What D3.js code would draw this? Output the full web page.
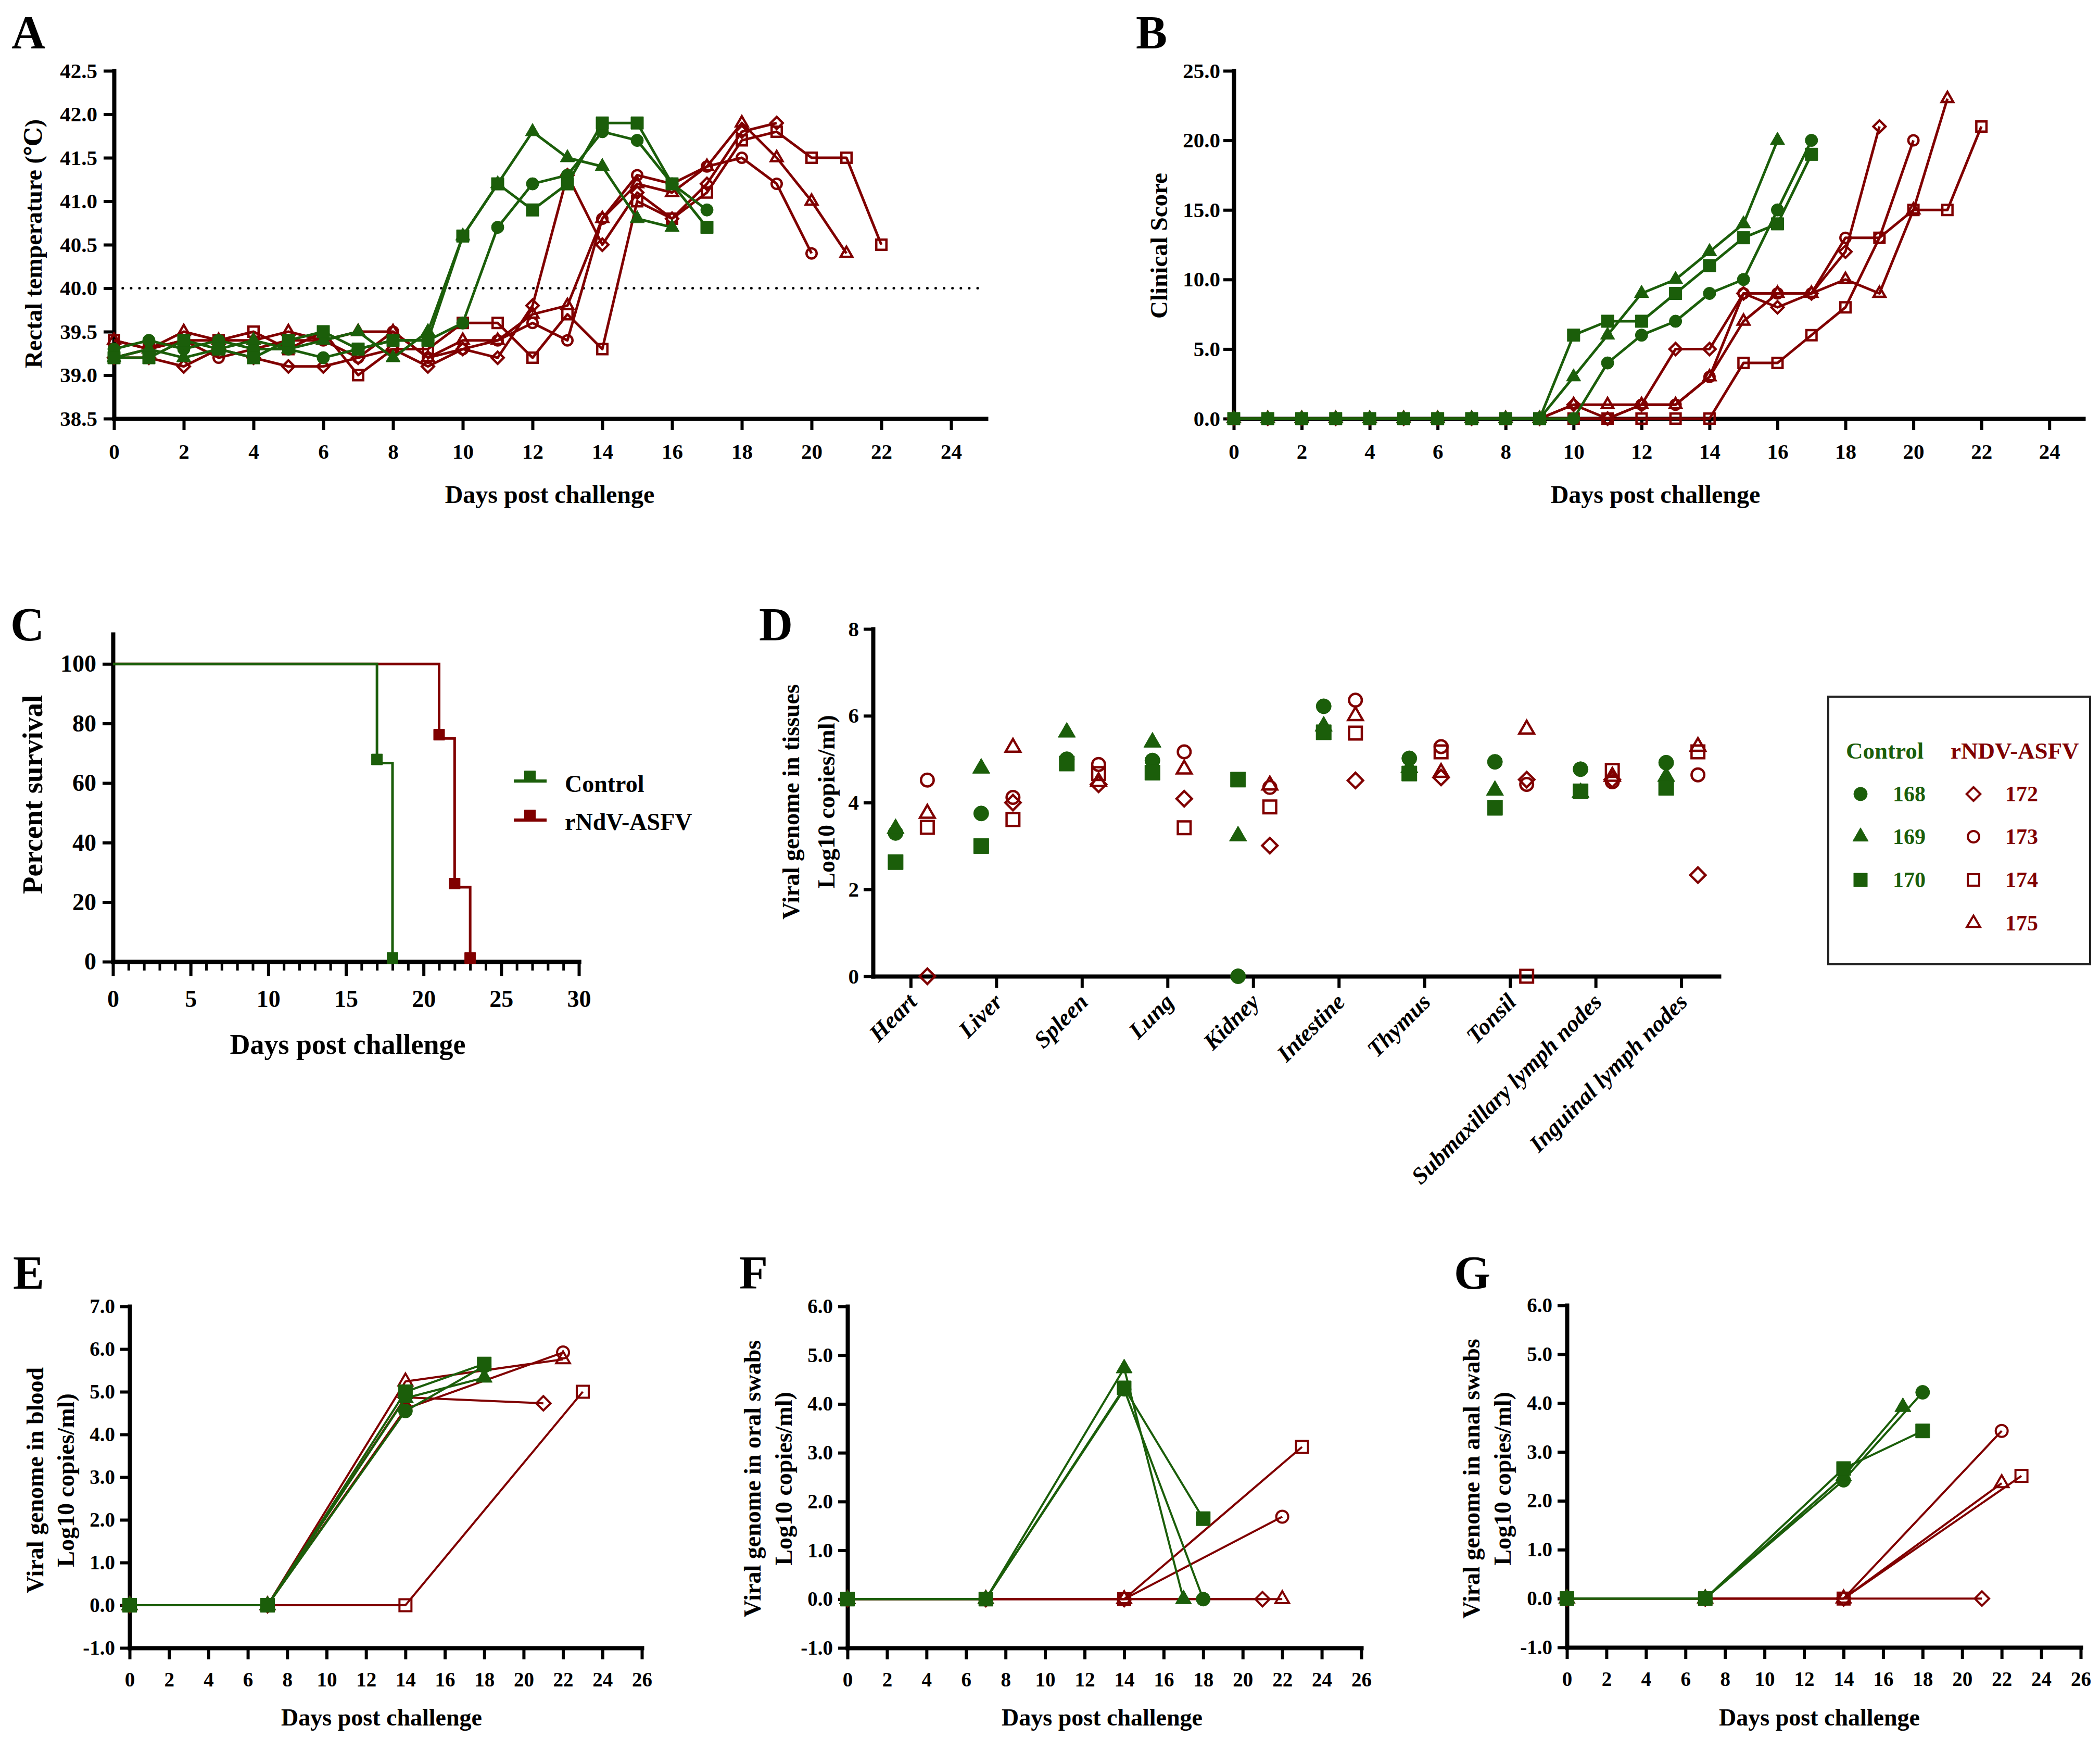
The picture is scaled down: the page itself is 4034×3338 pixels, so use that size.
<!DOCTYPE html>
<html><head><meta charset="utf-8">
<script src="https://cdn.jsdelivr.net/npm/d3@7/dist/d3.min.js"></script>
<style>
html,body{margin:0;padding:0;background:#fff;}
svg{display:block;}
</style></head>
<body>
<svg id="fig" width="4034" height="3338" xmlns="http://www.w3.org/2000/svg"></svg>
<script>
// ================= DATA =================
const animalIds   = ["168","169","170","172","173","174","175"];
const animalGroup = ["Control","Control","Control","rNDV-ASFV","rNDV-ASFV","rNDV-ASFV","rNDV-ASFV"];

// A: rectal temperature (index = day post challenge)
const temp168 = [39.3,39.4,39.3,39.4,39.3,39.3,39.2,39.3,39.4,39.4,39.6,40.7,41.2,41.3,41.8,41.7,41.2,40.9];
const temp169 = [39.2,39.3,39.2,39.3,39.4,39.3,39.4,39.5,39.2,39.5,40.6,41.2,41.8,41.5,41.4,40.8,40.7];
const temp170 = [39.2,39.2,39.4,39.3,39.2,39.4,39.5,39.3,39.4,39.4,40.6,41.2,40.9,41.2,41.9,41.9,41.2,40.7];
const temp172 = [39.2,39.2,39.1,39.3,39.2,39.1,39.1,39.2,39.3,39.1,39.3,39.2,39.8,41.3,40.5,41.1,40.8,41.2,41.8,41.9];
const temp173 = [39.2,39.3,39.4,39.2,39.3,39.4,39.4,39.2,39.5,39.2,39.3,39.4,39.6,39.4,40.8,41.3,41.2,41.4,41.5,41.2,40.4];
const temp174 = [39.4,39.3,39.4,39.4,39.5,39.3,39.5,39.0,39.3,39.3,39.6,39.6,39.2,39.7,39.3,41.0,40.8,41.1,41.7,41.8,41.5,41.5,40.5];
const temp175 = [39.4,39.3,39.5,39.4,39.4,39.5,39.4,39.5,39.5,39.2,39.4,39.4,39.7,39.8,40.8,41.2,41.1,41.4,41.9,41.5,41.0,40.4];
const feverThreshold = 40.0;

// B: clinical score (index = day post challenge)
const score168 = [0,0,0,0,0,0,0,0,0,0,0,4,6,7,9,10,15,20];
const score169 = [0,0,0,0,0,0,0,0,0,0,3,6,9,10,12,14,20];
const score170 = [0,0,0,0,0,0,0,0,0,0,6,7,7,9,11,13,14,19];
const score172 = [0,0,0,0,0,0,0,0,0,0,1,0,1,5,5,9,8,9,12,21];
const score173 = [0,0,0,0,0,0,0,0,0,0,0,0,1,1,3,9,9,9,13,13,20];
const score174 = [0,0,0,0,0,0,0,0,0,0,0,0,0,0,0,4,4,6,8,13,15,15,21];
const score175 = [0,0,0,0,0,0,0,0,0,0,1,1,1,1,3,7,9,9,10,9,15,23];

// C: survival
const survDaysControl = [0,17,18];
const survControl     = [100,66.7,0];
const survDaysVacc    = [0,21,22,23];
const survVacc        = [100,75,25,0];

// D: viral genome in tissues (Log10 copies/ml)
const tissues = ["Heart","Liver","Spleen","Lung","Kidney","Intestine","Thymus","Tonsil","Submaxillary lymph nodes","Inguinal lymph nodes"];
const tissue168 = [3.30,3.75,5.00,4.97,0.00,6.22,5.02,4.94,4.77,4.92];
const tissue169 = [3.40,4.79,5.62,5.39,3.23,5.76,4.80,4.28,4.23,4.60];
const tissue170 = [2.63,3.00,4.90,4.69,4.53,5.62,4.67,3.88,4.26,4.34];
const tissue172 = [0.00,4.00,4.42,4.09,3.01,4.51,4.58,4.53,4.53,2.33];
const tissue173 = [4.52,4.12,4.88,5.17,4.35,6.36,5.29,4.42,4.48,4.64];
const tissue174 = [3.43,3.61,4.67,3.42,3.90,5.60,5.17,0.00,4.74,5.17];
const tissue175 = [3.75,5.27,4.48,4.77,4.40,6.00,4.69,5.69,4.60,5.29];

// E: blood
const bloodDays = [[0,7,14,18],[0,7,14,18],[0,7,14,18],[0,7,14,21],[0,7,14,22],[0,7,14,23],[0,7,14,22]];
const bloodVals = [[0,0,4.55,5.60],[0,0,4.85,5.33],[0,0,5.00,5.65],[0,0,4.87,4.73],[0,0,4.60,5.92],[0,0,0,5.00],[0,0,5.24,5.76]];
// F: oral swabs
const oralDays = [[0,7,14,18],[0,7,14,17],[0,7,14,18],[0,7,14,21],[0,7,14,22],[0,7,14,23],[0,7,14,22]];
const oralVals = [[0,0,4.30,0],[0,0,4.73,0],[0,0,4.33,1.65],[0,0,0,0],[0,0,0,1.69],[0,0,0,3.12],[0,0,0,0]];
// G: anal swabs
const analDays = [[0,7,14,18],[0,7,14,17],[0,7,14,18],[0,7,14,21],[0,7,14,22],[0,7,14,23],[0,7,14,22]];
const analVals = [[0,0,2.42,4.22],[0,0,2.50,3.92],[0,0,2.66,3.43],[0,0,0,0],[0,0,0,3.43],[0,0,0,2.51],[0,0,0,2.36]];

// tick values
const tempTicks   = [38.5,39.0,39.5,40.0,40.5,41.0,41.5,42.0,42.5];
const scoreTicks  = [0,5,10,15,20,25];
const dayTicks24  = [0,2,4,6,8,10,12,14,16,18,20,22,24];
const dayTicks26  = [0,2,4,6,8,10,12,14,16,18,20,22,24,26];
const survTicksY  = [0,20,40,60,80,100];
const survTicksX  = [0,5,10,15,20,25,30];
const survMinorX  = [0,1,2,3,4,5,6,7,8,9,10,11,12,13,14,15,16,17,18,19,20,21,22,23,24,25,26,27,28,29,30];
const tissueTicks = [0,2,4,6,8];
const bloodTicks  = [-1,0,1,2,3,4,5,6,7];
const swabTicks   = [-1,0,1,2,3,4,5,6];

// ================= STYLE =================
const GREEN = "#1b5e0a", RED = "#800000";
const FONT = "'Liberation Serif','DejaVu Serif',serif";
const shapeOf = ["circle","triangle","square","diamond","circle","square","triangle"];
const colorOf = i => animalGroup[i]==="Control" ? GREEN : RED;
const filledOf = i => animalGroup[i]==="Control";
const drawOrder = [3,4,5,6,0,1,2];

const svg = d3.select("#fig");
svg.append("rect").attr("width",4034).attr("height",3338).attr("fill","#fff");

function symbolPath(shape, w){
  if(shape==="circle") return d3.symbol(d3.symbolCircle, Math.PI*w*w/4)();
  if(shape==="square") return d3.symbol(d3.symbolSquare, w*w)();
  if(shape==="triangle"){ const s=w*1.15; return d3.symbol(d3.symbolTriangle, Math.sqrt(3)/4*s*s)(); }
  const d=w*1.2; return d3.symbol(d3.symbolSquare, d*d/2)();
}
function marker(g, cx, cy, shape, w, color, filled, sw){
  const ww = filled ? w : w - sw;
  g.append("path").attr("d", symbolPath(shape, ww))
    .attr("transform", `translate(${cx},${cy})` + (shape==="diamond" ? " rotate(45)" : ""))
    .attr("fill", filled ? color : "none")
    .attr("stroke", color).attr("stroke-width", filled ? 1 : sw);
}
function styleAxis(sel, fs){
  sel.attr("font-family", FONT);
  sel.select(".domain").attr("stroke","#000").attr("stroke-width",8).attr("stroke-linecap","square");
  sel.selectAll(".tick line").attr("stroke","#000").attr("stroke-width",6);
  sel.selectAll(".tick text").attr("fill","#000").attr("font-size",fs)
     .attr("font-family",FONT).attr("font-weight","bold");
}
function text(g, str, x, y, fs, opts={}){
  const t = g.append("text").text(str).attr("x",x).attr("y",y)
    .attr("font-family",FONT).attr("font-weight","bold").attr("font-size",fs)
    .attr("fill", opts.fill || "#000").attr("text-anchor", opts.anchor || "start");
  if(opts.italic) t.attr("font-style","italic");
  return t;
}
function vtext(g, str, cx, cy, fs){
  return g.append("text").text(str)
    .attr("transform",`translate(${cx},${cy}) rotate(-90)`)
    .attr("dy","0.35em").attr("text-anchor","middle")
    .attr("font-family",FONT).attr("font-weight","bold").attr("font-size",fs).attr("fill","#000");
}
const fmt1 = d => d.toFixed(1);

function linePanel(o){
  const g = svg.append("g");
  const x = d3.scaleLinear().domain(o.xd).range(o.xr);
  const y = d3.scaleLinear().domain(o.yd).range(o.yr);
  const xa = g.append("g").attr("transform",`translate(0,${o.yr[0]})`)
    .call(d3.axisBottom(x).tickValues(o.xticks).tickSize(o.xtick||22).tickSizeOuter(0).tickPadding(o.xpad).tickFormat(d3.format("d")));
  styleAxis(xa, o.fs);
  const ya = g.append("g").attr("transform",`translate(${o.xr[0]},0)`)
    .call(d3.axisLeft(y).tickValues(o.yticks).tickSize(o.ytick||20).tickSizeOuter(0).tickPadding(o.ypad).tickFormat(o.yfmt));
  styleAxis(ya, o.fs);
  if(o.extra) o.extra(g, x, y);
  const line = d3.line().x(d=>x(d[0])).y(d=>y(d[1]));
  drawOrder.forEach(i=>{
    const pts = o.points(i);
    const c = colorOf(i);
    g.append("path").datum(pts).attr("d", line).attr("fill","none")
      .attr("stroke", c).attr("stroke-width", o.lw).attr("stroke-linejoin","round");
    pts.forEach(p => marker(g, x(p[0]), y(p[1]), shapeOf[i], o.ms, c, filledOf(i), o.msw));
  });
  return g;
}

// ================= PANEL A =================
const tempSeries = [temp168,temp169,temp170,temp172,temp173,temp174,temp175];
const gA = linePanel({
  xd:[0,25], xr:[219,1894], yd:[38.5,42.5], yr:[804,136],
  xticks:dayTicks24, yticks:tempTicks, yfmt:fmt1, fs:41, xpad:26, ypad:12,
  lw:5, ms:24, msw:4.5,
  points: i => tempSeries[i].map((v,d)=>[d,v]),
  extra: (g,x,y) => {
    g.append("line").attr("x1",x(0.25)).attr("x2",x(25)).attr("y1",y(feverThreshold)).attr("y2",y(feverThreshold))
      .attr("stroke","#000").attr("stroke-width",5).attr("stroke-linecap","round").attr("stroke-dasharray","0.1,16");
  }
});
vtext(gA, "Rectal temperature (℃)", 64, 468, 46);
text(gA, "Days post challenge", 1056, 966, 48, {anchor:"middle"});
text(gA, "A", 22, 93, 90);

// ================= PANEL B =================
const scoreSeries = [score168,score169,score170,score172,score173,score174,score175];
const gB = linePanel({
  xd:[0,25], xr:[2370,4002], yd:[0,25], yr:[804,136],
  xticks:dayTicks24, yticks:scoreTicks, yfmt:fmt1, fs:41, xpad:26, ypad:6,
  lw:5, ms:24, msw:4.5,
  points: i => scoreSeries[i].map((v,d)=>[d,v])
});
vtext(gB, "Clinical Score", 2226, 472, 47);
text(gB, "Days post challenge", 3180, 966, 48, {anchor:"middle"});
text(gB, "B", 2182, 93, 90);

// ================= PANEL C =================
(function(){
  const g = svg.append("g");
  const x = d3.scaleLinear().domain([0,30]).range([217,1112]);
  const y = d3.scaleLinear().domain([0,110]).range([1847,1218]);
  const minor = g.append("g").attr("transform",`translate(0,${y(0)})`)
    .call(d3.axisBottom(x).tickValues(survMinorX).tickSize(17).tickSizeOuter(0).tickFormat(""));
  styleAxis(minor, 44);
  minor.selectAll(".tick line").attr("stroke-width",5);
  const major = g.append("g").attr("transform",`translate(0,${y(0)})`)
    .call(d3.axisBottom(x).tickValues(survTicksX).tickSize(28).tickSizeOuter(0).tickPadding(26).tickFormat(d3.format("d")));
  styleAxis(major, 46);
  const ya = g.append("g").attr("transform",`translate(${x(0)},0)`)
    .call(d3.axisLeft(y).tickValues(survTicksY).tickSize(20).tickSizeOuter(0).tickPadding(12).tickFormat(d3.format("d")));
  styleAxis(ya, 46);
  const step = d3.line().x(d=>x(d[0])).y(d=>y(d[1])).curve(d3.curveStepAfter);
  const sets = [
    {days:survDaysVacc, vals:survVacc, c:RED},
    {days:survDaysControl, vals:survControl, c:GREEN}
  ];
  sets.forEach(s=>{
    const pts = s.days.map((d,i)=>[d, s.vals[i]]);
    g.append("path").datum(pts).attr("d",step).attr("fill","none").attr("stroke",s.c).attr("stroke-width",5);
    pts.slice(1).forEach(p => marker(g, x(p[0]), y(p[1]) - 7, "square", 21, s.c, true, 0));
  });
  [["Control",GREEN,1500,1521],["rNdV-ASFV",RED,1575,1594]].forEach(([lab,c,ly,by])=>{
    g.append("line").attr("x1",987).attr("x2",1050).attr("y1",ly).attr("y2",ly).attr("stroke",c).attr("stroke-width",6);
    marker(g, 1018, ly-9, "square", 21, c, true, 0);
    text(g, lab, 1085, by, 46);
  });
  vtext(g, "Percent survival", 62, 1526, 55);
  text(g, "Days post challenge", 668, 2024, 54, {anchor:"middle"});
  text(g, "C", 20, 1230, 90);
})();

// ================= PANEL D =================
(function(){
  const g = svg.append("g");
  const x = d3.scalePoint().domain(tissues).range([1677,3302]).padding(0.44);
  const y = d3.scaleLinear().domain([0,8]).range([1875,1208]);
  const xa = g.append("g").attr("transform",`translate(0,${y(0)})`)
    .call(d3.axisBottom(x).tickSize(22).tickSizeOuter(0));
  styleAxis(xa, 45);
  xa.selectAll(".tick text").attr("y",0).attr("dy",0)
    .attr("transform","translate(14,52) rotate(-45)")
    .attr("text-anchor","end").attr("font-style","italic");
  const ya = g.append("g").attr("transform",`translate(1677,0)`)
    .call(d3.axisLeft(y).tickValues(tissueTicks).tickSize(18).tickSizeOuter(0).tickPadding(9).tickFormat(d3.format("d")));
  styleAxis(ya, 41);
  const tissueSeries = [tissue168,tissue169,tissue170,tissue172,tissue173,tissue174,tissue175];
  drawOrder.forEach(i=>{
    const off = animalGroup[i]==="Control" ? -29 : 32;
    tissueSeries[i].forEach((v,k)=>{
      marker(g, x(tissues[k]) + off, y(v), shapeOf[i], 29, colorOf(i), filledOf(i), 4.5);
    });
  });
  vtext(g, "Viral genome in tissues", 1519, 1540, 46);
  vtext(g, "Log10 copies/ml)", 1587, 1540, 46);
  text(g, "D", 1458, 1230, 90);

  g.append("rect").attr("x",3512).attr("y",1338).attr("width",503).attr("height",514)
    .attr("fill","#fff").attr("stroke","#222").attr("stroke-width",4);
  text(g, "Control", 3546, 1457, 45, {fill:GREEN});
  text(g, "rNDV-ASFV", 3747, 1457, 45, {fill:RED});
  const rowsY = [1525,1607,1690,1773];
  let gi=0, ri=0;
  animalIds.forEach((id,i)=>{
    const ctrl = animalGroup[i]==="Control";
    const cy = ctrl ? rowsY[gi++] : rowsY[ri++];
    const mx = ctrl ? 3574 : 3791;
    marker(g, mx, cy, shapeOf[i], 26, colorOf(i), filledOf(i), 4);
    text(g, id, ctrl ? 3636 : 3852, cy + 14, 42, {fill:colorOf(i)});
  });
})();

// ================= PANELS E, F, G =================
const gE = linePanel({
  xd:[0,26], xr:[249,1233], yd:[-1,7], yr:[3165,2509],
  xticks:dayTicks26, yticks:bloodTicks, yfmt:fmt1, fs:39, xpad:24, ypad:10, ytick:18,
  lw:4, ms:27, msw:4,
  points: i => bloodDays[i].map((d,k)=>[d, bloodVals[i][k]])
});
vtext(gE, "Viral genome in blood", 67, 2843, 46);
vtext(gE, "Log10 copies/ml)", 126, 2843, 46);
text(gE, "Days post challenge", 733, 3314, 46, {anchor:"middle"});
text(gE, "E", 25, 2475, 90);

const gF = linePanel({
  xd:[0,26], xr:[1628,2615], yd:[-1,6], yr:[3165,2509],
  xticks:dayTicks26, yticks:swabTicks, yfmt:fmt1, fs:39, xpad:24, ypad:10, ytick:18,
  lw:4, ms:27, msw:4,
  points: i => oralDays[i].map((d,k)=>[d, oralVals[i][k]])
});
vtext(gF, "Viral genome in oral swabs", 1445, 2840, 46);
vtext(gF, "Log10 copies/ml)", 1505, 2840, 46);
text(gF, "Days post challenge", 2117, 3314, 46, {anchor:"middle"});
text(gF, "F", 1420, 2475, 90);

const gG = linePanel({
  xd:[0,26], xr:[3010,3997], yd:[-1,6], yr:[3164,2507],
  xticks:dayTicks26, yticks:swabTicks, yfmt:fmt1, fs:39, xpad:24, ypad:10, ytick:18,
  lw:4, ms:27, msw:4,
  points: i => analDays[i].map((d,k)=>[d, analVals[i][k]])
});
vtext(gG, "Viral genome in anal swabs", 2826, 2840, 46);
vtext(gG, "Log10 copies/ml)", 2886, 2840, 46);
text(gG, "Days post challenge", 3495, 3314, 46, {anchor:"middle"});
text(gG, "G", 2793, 2475, 90);
</script>
</body></html>
